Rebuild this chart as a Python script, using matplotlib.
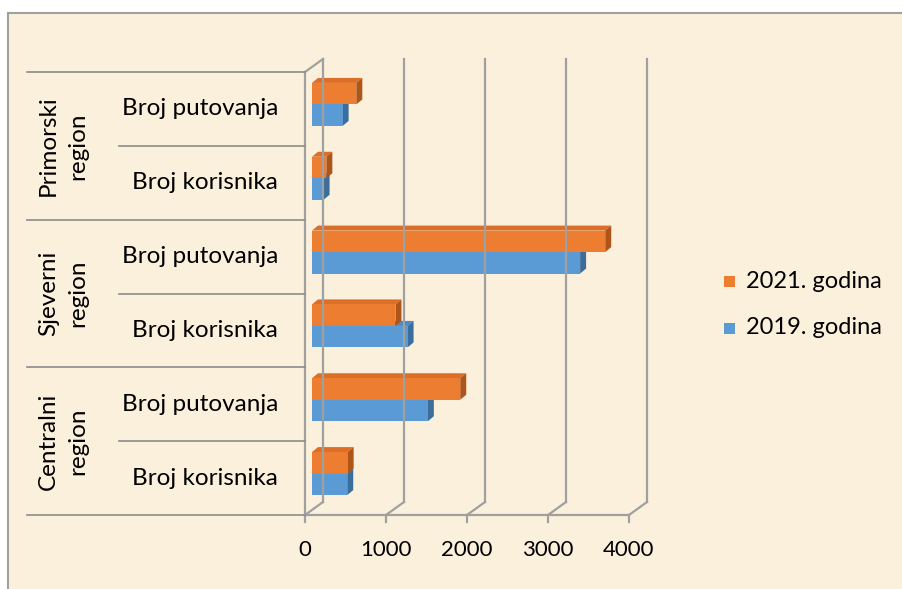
import matplotlib
matplotlib.use("Agg")
import matplotlib.pyplot as plt
from matplotlib.patches import Polygon, Rectangle
from matplotlib.lines import Line2D

plt.rcParams['font.family'] = ['Lato', 'DejaVu Sans']

# ---- data ----
regions = ["Primorski\nregion", "Sjeverni\nregion", "Centralni\nregion"]
measures = ["Broj putovanja", "Broj korisnika"]
series_names = ["2021. godina", "2019. godina"]
# order: top to bottom (Primorski putovanja, Primorski korisnika, Sjeverni ..., Centralni ...)
values_2021 = [547, 177, 3620, 1030, 1830, 440]
values_2019 = [378, 143, 3310, 1180, 1430, 435]
xticks = [0, 1000, 2000, 3000, 4000]

col_2021 = "#ED7D31"
col_2019 = "#5B9BD5"
side_2021 = "#AE5519"
top_2021 = "#DD6E27"
side_2019 = "#3C6E9C"
top_2019 = "#4F8AC2"

FS = 17.5

W, H = 902, 589
fig = plt.figure(figsize=(W / 100, H / 100), dpi=100)
fig.patch.set_facecolor("white")

# background panel
bg = fig.add_axes([0, 0, 1, 1])
bg.set_xlim(0, W)
bg.set_ylim(H, 0)
bg.axis("off")
bg.add_patch(Rectangle((8, 13), W - 8, H - 13, facecolor="#FBF0DC", edgecolor="none"))
bg.plot([8, 8], [13, H], color="#A0A0A0", lw=1.5)
bg.plot([8, W], [13, 13], color="#A0A0A0", lw=1.5)

# main axes = front plane
x0p, x1p, y0p, y1p = 305, 629, 72, 515
ax = fig.add_axes([x0p / W, 1 - y1p / H, (x1p - x0p) / W, (y1p - y0p) / H])
ax.set_xlim(0, 4000)
n = len(values_2021)
ax.set_ylim(0, n)
ax.axis("off")
ax.patch.set_alpha(0)

sx = 4000 / (x1p - x0p)   # data per px
sy = n / (y1p - y0p)

grid_c = "#A0A0A0"
# back wall offset
bdx, bdy = 18 * sx, 13 * sy
for v in xticks:
    ax.add_line(Line2D([v + bdx, v + bdx], [bdy, n + bdy], color=grid_c, lw=1.6, clip_on=False))
    ax.add_line(Line2D([v, v + bdx], [0, bdy], color=grid_c, lw=1.6, clip_on=False))
    ax.add_line(Line2D([v, v], [0, -7 * sy], color=grid_c, lw=1.6, clip_on=False))
    ax.text(v, -35 * sy, f"{v}", ha="center", va="center", fontsize=16)
ax.add_line(Line2D([0, 4000], [0, 0], color=grid_c, lw=1.6, clip_on=False))
ax.add_line(Line2D([0, 0], [0, n], color=grid_c, lw=1.6, clip_on=False))
ax.add_line(Line2D([0, bdx], [n, n + bdy], color=grid_c, lw=1.6, clip_on=False))

# category table lines (left)
tab_c = "#8C8C8C"
for k in range(n + 1):
    xl = (27 if k % 2 == 0 else 119) - x0p
    ax.add_line(Line2D([xl * sx, 0], [k, k], color=tab_c, lw=1.2, clip_on=False))

for i, m in enumerate([measures[0], measures[1]] * len(regions)):
    yc = n - i - 0.5
    ax.text((278 - x0p) * sx, yc, m, ha="right", va="center", fontsize=FS)
for r, name in enumerate(regions):
    yc = n - 2 * r - 1
    ax.text((63 - x0p) * sx, yc, name, ha="center", va="center", rotation=90,
            fontsize=FS, multialignment="center", linespacing=1.45)

# bars (3D-like)
pdx, pdy = 7 * sx, 4.5 * sy     # bar depth position
ddx, ddy = 6 * sx, 5 * sy       # bar thickness
bh = 21.5 * sy


def bar3d(val, ybot, fc, tc, sc):
    xa, xb = pdx, pdx + val
    yb, yt = ybot, ybot + bh
    ax.add_patch(Polygon([(xa, yt), (xb, yt), (xb + ddx, yt + ddy), (xa + ddx, yt + ddy)],
                         closed=True, facecolor=tc, edgecolor="none", clip_on=False))
    ax.add_patch(Polygon([(xb, yb), (xb + ddx, yb + ddy), (xb + ddx, yt + ddy), (xb, yt)],
                         closed=True, facecolor=sc, edgecolor="none", clip_on=False))
    ax.barh(ybot, val, height=bh, left=xa, align="edge", color=fc, edgecolor="none", clip_on=False)


for i in range(n):
    yc = n - i - 0.5 + pdy
    bar3d(values_2019[i], yc - bh, col_2019, top_2019, side_2019)
    bar3d(values_2021[i], yc, col_2021, top_2021, side_2021)

# legend
for j, (name, c) in enumerate(zip(series_names, [col_2021, col_2019])):
    yy = 281 + j * 47
    bg.add_patch(Rectangle((724, yy - 5.5), 11, 11, facecolor=c, edgecolor="none"))
    bg.text(746, yy, name, ha="left", va="center", fontsize=17)

fig.savefig("out.png", dpi=100)
